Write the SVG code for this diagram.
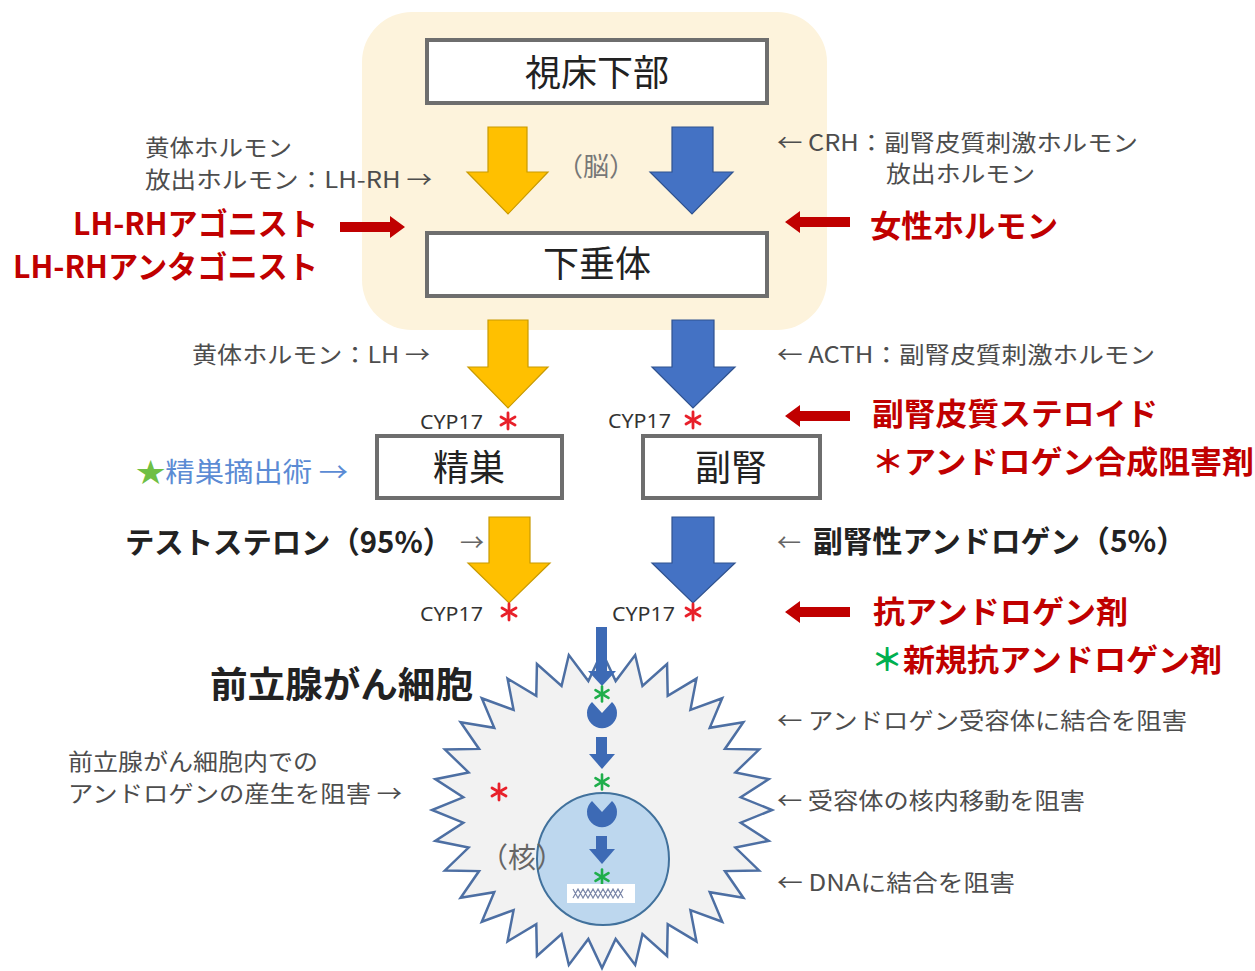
<svg xmlns="http://www.w3.org/2000/svg" xmlns:xlink="http://www.w3.org/1999/xlink" width="1255" height="971" viewBox="0 0 1255 971">
  <style>
    text { font-family: "Noto Sans CJK JP", "Noto Sans", sans-serif; }
    .box { fill: #ffffff; stroke: #6e6e6e; stroke-width: 4; }
    .boxlbl { font-size: 36px; fill: #222; text-anchor: middle; }
    .gray { font-size: 23px; fill: #4d4d4d; }
    .red { font-size: 31px; font-weight: bold; fill: #c00000; }
    .blk { font-size: 30px; font-weight: bold; fill: #222; }
    .cyp { font-family: "Noto Sans", sans-serif; font-size: 20px; fill: #333; }
    .yarrow { fill: #ffc000; stroke: #c99a00; stroke-width: 1.2; }
    .barrow { fill: #4472c4; stroke: #2f528f; stroke-width: 1.2; }
    .carrow { fill: #3d6ab5; }
    .redarrow { fill: #c00000; }
  </style>
  <defs>
    <g id="astR" stroke="#e8202a" stroke-width="2.8" stroke-linecap="round">
      <line x1="0" y1="-8" x2="0" y2="8"/>
      <line x1="-7" y1="-4" x2="7" y2="4"/>
      <line x1="-7" y1="4" x2="7" y2="-4"/>
    </g>
    <g id="astG" stroke="#1fae4b" stroke-width="2.6" stroke-linecap="round">
      <line x1="0" y1="-7.5" x2="0" y2="7.5"/>
      <line x1="-6.5" y1="-3.8" x2="6.5" y2="3.8"/>
      <line x1="-6.5" y1="3.8" x2="6.5" y2="-3.8"/>
    </g>
    <!-- short fat red arrow pointing left, tip at origin -->
    <polygon id="redArrow" class="redarrow" points="0,0 15,-11 15,-5 65,-5 65,5 15,5 15,11"/>
    <!-- receptor: disc with a V notch on top -->
    <path id="receptor" d="M0,0 L10,-11 A15,15 0 1 1 -10,-11 Z" fill="#3d6ab5"/>
  </defs>

  <rect width="1255" height="971" fill="#ffffff"/>

  <!-- brain region backdrop -->
  <rect id="brain" x="362" y="12" width="465" height="318" rx="50" fill="#fdf3dc"/>

  <!-- connectors: hormone flow arrows -->
  <g id="connectors">
    <polygon class="yarrow" points="488,127 527,127 527,172 548,172 508,214 467,172 488,172"/>
    <polygon class="barrow" points="672,127 713,127 713,172 733,172 692,214 650,172 672,172"/>
    <polygon class="yarrow" points="488,320 528,320 528,367 548,367 508,408 468,367 488,367"/>
    <polygon class="barrow" points="672,320 714,320 714,367 735,367 693,408 652,367 672,367"/>
    <polygon class="yarrow" points="489,517 530,517 530,563 550,563 509,603 468,563 489,563"/>
    <polygon class="barrow" points="672,517 714,517 714,563 735,563 693,603 652,563 672,563"/>

    <!-- drug action arrows -->
    <use xlink:href="#redArrow" transform="translate(405,227) scale(-1,1)"/>
    <use xlink:href="#redArrow" transform="translate(785,222)"/>
    <use xlink:href="#redArrow" transform="translate(785,416)"/>
    <use xlink:href="#redArrow" transform="translate(785,612)"/>
  </g>

  <!-- organ nodes -->
  <g id="hypothalamus">
    <rect class="box" x="427" y="40" width="340" height="63"/>
    <text class="boxlbl" x="597" y="86">視床下部</text>
  </g>
  <g id="pituitary">
    <rect class="box" x="427" y="233" width="340" height="63"/>
    <text class="boxlbl" x="597" y="277">下垂体</text>
  </g>
  <g id="testis">
    <rect class="box" x="377" y="436" width="185" height="62"/>
    <text class="boxlbl" x="469" y="481">精巣</text>
  </g>
  <g id="adrenal">
    <rect class="box" x="643" y="436" width="177" height="62"/>
    <text class="boxlbl" x="731" y="481">副腎</text>
  </g>

  <!-- CYP17 sites -->
  <g id="cyp17">
    <text class="cyp" x="420" y="429" textLength="63" lengthAdjust="spacingAndGlyphs">CYP17</text>
    <use xlink:href="#astR" x="508" y="421"/>
    <text class="cyp" x="608" y="428" textLength="63" lengthAdjust="spacingAndGlyphs">CYP17</text>
    <use xlink:href="#astR" x="693" y="420"/>
    <text class="cyp" x="420" y="621" textLength="63" lengthAdjust="spacingAndGlyphs">CYP17</text>
    <use xlink:href="#astR" x="509" y="612"/>
    <text class="cyp" x="612" y="621" textLength="63" lengthAdjust="spacingAndGlyphs">CYP17</text>
    <use xlink:href="#astR" x="693" y="612"/>
  </g>

  <!-- hormone labels -->
  <g id="hormone-labels">
    <text class="gray" x="145" y="156" textLength="147" lengthAdjust="spacingAndGlyphs">黄体ホルモン</text>
    <text class="gray" x="145" y="188" textLength="287" lengthAdjust="spacingAndGlyphs">放出ホルモン：LH-RH →</text>
    <text x="557" y="176" font-size="26" fill="#777">（脳）</text>
    <text class="gray" x="777" y="151" textLength="361" lengthAdjust="spacingAndGlyphs">← CRH：副腎皮質刺激ホルモン</text>
    <text class="gray" x="886" y="182" textLength="149" lengthAdjust="spacingAndGlyphs">放出ホルモン</text>
    <text class="gray" x="192" y="363" textLength="238" lengthAdjust="spacingAndGlyphs">黄体ホルモン：LH →</text>
    <text class="gray" x="777" y="363" textLength="378" lengthAdjust="spacingAndGlyphs">← ACTH：副腎皮質刺激ホルモン</text>
    <text x="136" y="482" font-size="27" fill="#5b8bd4" textLength="212" lengthAdjust="spacingAndGlyphs"><tspan fill="#6fbf44">★</tspan>精巣摘出術 →</text>
    <text class="blk" x="125" y="553" textLength="327" lengthAdjust="spacingAndGlyphs">テストステロン（95%）</text>
    <text x="460" y="551" font-size="24" fill="#666">→</text>
    <text x="777" y="551" font-size="24" fill="#666">←</text>
    <text class="blk" x="813" y="552" textLength="373" lengthAdjust="spacingAndGlyphs">副腎性アンドロゲン（5%）</text>
  </g>

  <!-- drug labels -->
  <g id="drug-labels">
    <text class="red" x="318" y="235" text-anchor="end" font-size="30" textLength="245" lengthAdjust="spacingAndGlyphs">LH-RHアゴニスト</text>
    <text class="red" x="318" y="278" text-anchor="end" font-size="30" textLength="305" lengthAdjust="spacingAndGlyphs">LH-RHアンタゴニスト</text>
    <text class="red" x="870" y="237" textLength="188" lengthAdjust="spacingAndGlyphs">女性ホルモン</text>
    <text class="red" x="872" y="425" textLength="286" lengthAdjust="spacingAndGlyphs">副腎皮質ステロイド</text>
    <text class="red" x="872" y="473" textLength="382" lengthAdjust="spacingAndGlyphs">＊アンドロゲン合成阻害剤</text>
    <text class="red" x="873" y="623" textLength="255" lengthAdjust="spacingAndGlyphs">抗アンドロゲン剤</text>
    <text class="red" x="871" y="671" textLength="351" lengthAdjust="spacingAndGlyphs"><tspan fill="#00b050">＊</tspan>新規抗アンドロゲン剤</text>
  </g>

  <!-- prostate cancer cell -->
  <g id="cancer-cell">
    <polygon transform="translate(602,810) scale(1.7,1.58)" fill="#f2f2f2" stroke="#4d6fa3" stroke-width="2.5" vector-effect="non-scaling-stroke" stroke-linejoin="miter"
      points="100,0 81.61,8.04 98.08,19.51 78.47,23.80 92.39,38.27 72.32,38.66 83.15,55.56 63.39,52.02 70.71,70.71 52.02,63.39 55.56,83.15 38.66,72.32 38.27,92.39 23.80,78.47 19.51,98.08 8.04,81.61 0,100 -8.04,81.61 -19.51,98.08 -23.80,78.47 -38.27,92.39 -38.66,72.32 -55.56,83.15 -52.02,63.39 -70.71,70.71 -63.39,52.02 -83.15,55.56 -72.32,38.66 -92.39,38.27 -78.47,23.80 -98.08,19.51 -81.61,8.04 -100,0 -81.61,-8.04 -98.08,-19.51 -78.47,-23.80 -92.39,-38.27 -72.32,-38.66 -83.15,-55.56 -63.39,-52.02 -70.71,-70.71 -52.02,-63.39 -55.56,-83.15 -38.66,-72.32 -38.27,-92.39 -23.80,-78.47 -19.51,-98.08 -8.04,-81.61 0,-100 8.04,-81.61 19.51,-98.08 23.80,-78.47 38.27,-92.39 38.66,-72.32 55.56,-83.15 52.02,-63.39 70.71,-70.71 63.39,-52.02 83.15,-55.56 72.32,-38.66 92.39,-38.27 78.47,-23.80 98.08,-19.51 81.61,-8.04"/>
    <circle cx="603" cy="859" r="66" fill="#bdd7ee" stroke="#41719c" stroke-width="2"/>
    <text x="480" y="868" font-size="28" fill="#666">（核）</text>
    <use xlink:href="#astR" x="499" y="792"/>

    <!-- androgen path into nucleus -->
    <rect class="carrow" x="596" y="627" width="11" height="45"/>
    <polygon class="carrow" points="588,671 616,671 602,686"/>
    <use xlink:href="#astG" x="602" y="694"/>
    <use xlink:href="#receptor" x="602" y="713"/>
    <rect class="carrow" x="596" y="737" width="11" height="18"/>
    <polygon class="carrow" points="589,754 615,754 602,769"/>
    <use xlink:href="#astG" x="602" y="782"/>
    <use xlink:href="#receptor" x="602" y="812"/>
    <rect class="carrow" x="596" y="836" width="11" height="14"/>
    <polygon class="carrow" points="589,849 615,849 602,864"/>
    <use xlink:href="#astG" x="602" y="877"/>

    <!-- DNA -->
    <rect x="567" y="884" width="68" height="19" fill="#ffffff"/>
    <path d="M573,889 l5,9 l5,-9 l5,9 l5,-9 l5,9 l5,-9 l5,9 l5,-9 l5,9 l5,-9 M573,898 l5,-9 l5,9 l5,-9 l5,9 l5,-9 l5,9 l5,-9 l5,9 l5,-9 l5,9" fill="none" stroke="#7a86a8" stroke-width="1.2"/>

    <text x="210" y="698" font-size="36" font-weight="bold" fill="#222" textLength="263" lengthAdjust="spacingAndGlyphs">前立腺がん細胞</text>
  </g>

  <!-- mechanism labels -->
  <g id="mechanism-labels">
    <text class="gray" x="68" y="770" textLength="250" lengthAdjust="spacingAndGlyphs">前立腺がん細胞内での</text>
    <text class="gray" x="68" y="802" textLength="334" lengthAdjust="spacingAndGlyphs">アンドロゲンの産生を阻害 →</text>
    <text class="gray" x="777" y="729" textLength="410" lengthAdjust="spacingAndGlyphs">← アンドロゲン受容体に結合を阻害</text>
    <text class="gray" x="777" y="809" textLength="308" lengthAdjust="spacingAndGlyphs">← 受容体の核内移動を阻害</text>
    <text class="gray" x="777" y="891" textLength="238" lengthAdjust="spacingAndGlyphs">← DNAに結合を阻害</text>
  </g>
</svg>
